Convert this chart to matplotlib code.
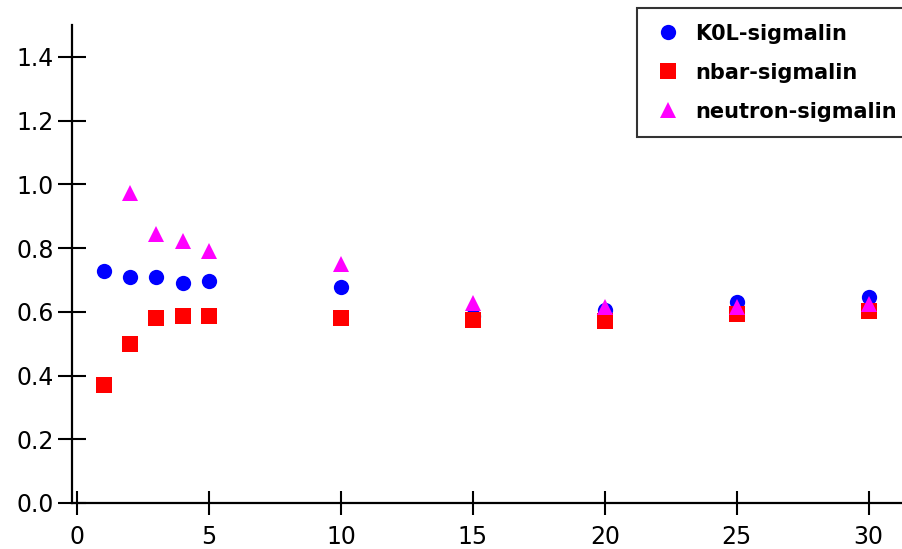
import matplotlib
matplotlib.use('Agg')
import matplotlib.pyplot as plt

plt.rcParams['font.family'] = ['DejaVu Sans']

# data
x_k0l = [1, 2, 3, 4, 5, 10, 15, 20, 25, 30]
k0l = [0.729, 0.708, 0.708, 0.690, 0.697, 0.677, 0.587, 0.606, 0.632, 0.648]

x_nbar = [1, 2, 3, 4, 5, 10, 15, 20, 25, 30]
nbar = [0.369, 0.498, 0.580, 0.586, 0.586, 0.580, 0.573, 0.570, 0.592, 0.601]

x_neutron = [2, 3, 4, 5, 10, 15, 20, 25, 30]
neutron = [0.972, 0.844, 0.821, 0.790, 0.751, 0.629, 0.616, 0.614, 0.625]

x_ticks = [0, 5, 10, 15, 20, 25, 30]
y_ticks = [0.0, 0.2, 0.4, 0.6, 0.8, 1.0, 1.2, 1.4]

W, H = 903, 549
fig = plt.figure(figsize=(W / 100, H / 100), dpi=100)
ax = fig.add_axes([72 / W, 46 / H, (W - 72) / W, 478 / H])

# 三组散点
ax.plot(x_k0l, k0l, 'o', color='#0000ff', markersize=11, mew=0, label='K0L-sigmalin')
ax.plot(x_nbar, nbar, 's', color='#ff0000', markersize=11, mew=0, label='nbar-sigmalin')
ax.plot(x_neutron, neutron, '^', color='#ff00ff', markersize=11, mew=0, label='neutron-sigmalin')

ax.set_xlim(-0.2, 31.3)
ax.set_ylim(0, 1.5)
ax.set_xticks(x_ticks)
ax.set_yticks(y_ticks)
ax.set_yticklabels(['%.1f' % v for v in y_ticks])

for s in ['top', 'right']:
    ax.spines[s].set_visible(False)
for s in ['left', 'bottom']:
    ax.spines[s].set_linewidth(1.6)

ax.tick_params(axis='x', direction='inout', length=17, width=1.5, labelsize=17, pad=7)
ax.tick_params(axis='y', direction='inout', length=20, width=1.5, labelsize=17, pad=3)

leg = ax.legend(loc='upper left', bbox_to_anchor=(637 / W, 1 - 8 / H),
                bbox_transform=fig.transFigure, frameon=True, fancybox=False,
                prop={'weight': 'bold', 'size': 15}, handletextpad=0.55,
                labelspacing=0.91, borderpad=0.75, handlelength=1.5, borderaxespad=0)
leg.get_frame().set_edgecolor('black')
leg.get_frame().set_linewidth(1.5)

fig.savefig('out.png', dpi=100)
